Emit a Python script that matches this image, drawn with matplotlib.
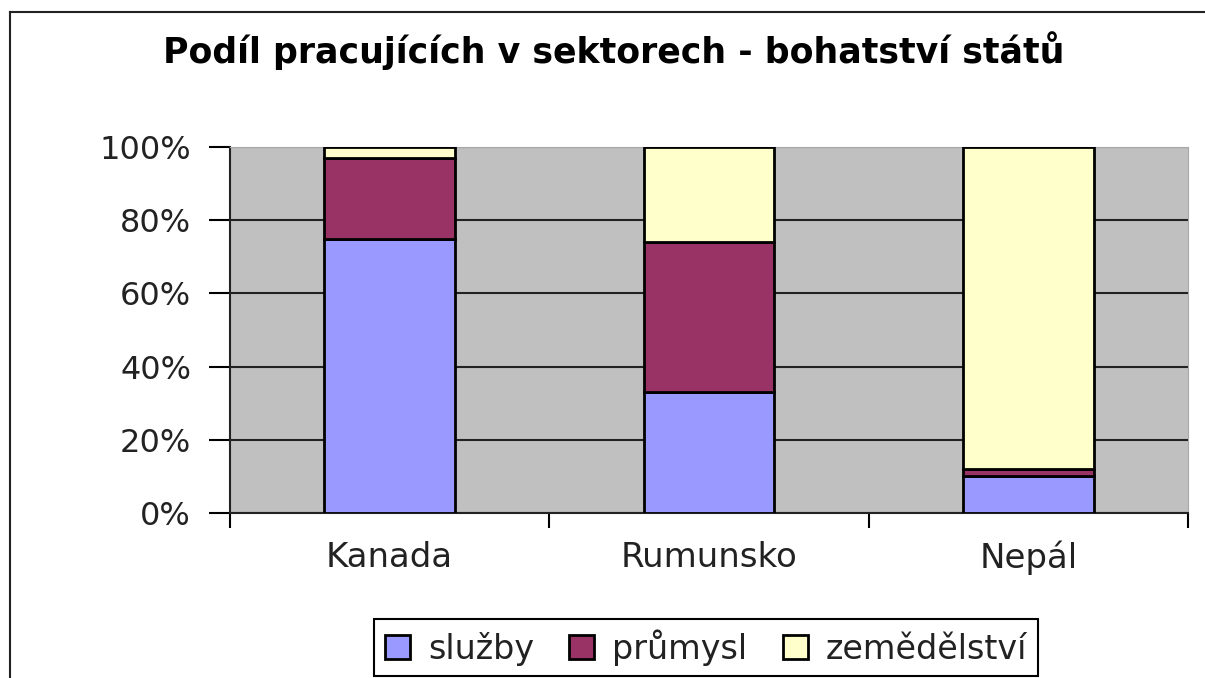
import matplotlib
matplotlib.use("Agg")
import matplotlib.pyplot as plt
from matplotlib.lines import Line2D
import numpy as np

plt.rcParams['font.family'] = ['DejaVu Sans']

countries = ["Kanada", "Rumunsko", "Nepál"]
sluzby = [75, 33, 10]
prumysl = [22, 41, 2]
zemedelstvi = [3, 26, 88]
series_names = ["služby", "průmysl", "zemědělství"]
colors = ["#9999FF", "#993366", "#FFFFCC"]
y_ticks = [0, 20, 40, 60, 80, 100]
y_tick_labels = ["0%", "20%", "40%", "60%", "80%", "100%"]
title = "Podíl pracujících v sektorech - bohatství států"

W, H = 1205, 678
fig = plt.figure(figsize=(W / 100, H / 100), dpi=100)
fig.patch.set_facecolor("white")
ax = fig.add_axes([230 / W, 1 - 513 / H, (1188 - 230) / W, (513 - 147) / H])
ax.set_facecolor("#C0C0C0")

x = np.arange(len(countries))
bottom = np.zeros(len(countries))
for vals, name, col in zip([sluzby, prumysl, zemedelstvi], series_names, colors):
    ax.bar(x, vals, width=0.41, bottom=bottom, color=col, edgecolor="black",
           linewidth=2, label=name, zorder=3)
    bottom += np.array(vals)

ax.set_xlim(-0.5, len(countries) - 0.5)
ax.set_ylim(0, 100)
ax.set_yticks(y_ticks)
ax.set_yticklabels(y_tick_labels, fontsize=23)
ax.set_xticks(x)
ax.set_xticklabels(countries, fontsize=24.5)
ax.set_xticks(np.arange(-0.5, len(countries), 1.0), minor=True)
ax.tick_params(axis="x", which="major", length=0, pad=20)
ax.tick_params(axis="x", which="minor", length=11, width=1.5, direction="out")
ax.tick_params(axis="y", length=15, width=1.5, direction="out", pad=13)
for t in ax.get_xticklabels() + ax.get_yticklabels():
    t.set_color("#222222")

ax.grid(axis="y", color="#222222", linewidth=1.5, zorder=1)
ax.set_axisbelow(True)
ax.spines["left"].set_color("#222222")
ax.spines["left"].set_linewidth(1.5)
ax.spines["bottom"].set_color("#222222")
ax.spines["bottom"].set_linewidth(1.5)
ax.spines["top"].set_color("#A8A8A8")
ax.spines["right"].set_color("#A8A8A8")

fig.text(614 / W, 1 - 63 / H, title, ha="center", va="baseline",
         fontsize=25, fontweight="bold", color="black")

leg = ax.legend(loc="center", bbox_to_anchor=(706 / W, 1 - 647.5 / H),
                bbox_transform=fig.transFigure, ncol=3, fontsize=24,
                frameon=True, fancybox=False, framealpha=1, edgecolor="black",
                handlelength=0.75, handleheight=0.75, handletextpad=0.55,
                columnspacing=1.05, borderpad=0.32, borderaxespad=0)
leg.get_frame().set_linewidth(1.5)
for t in leg.get_texts():
    t.set_color("#222222")

fig.add_artist(Line2D([10 / W, 10 / W], [0, 1 - 12 / H], color="#222222", linewidth=1.5))
fig.add_artist(Line2D([10 / W, 1], [1 - 12 / H, 1 - 12 / H], color="#222222", linewidth=1.5))

fig.savefig("out.png", dpi=100)
